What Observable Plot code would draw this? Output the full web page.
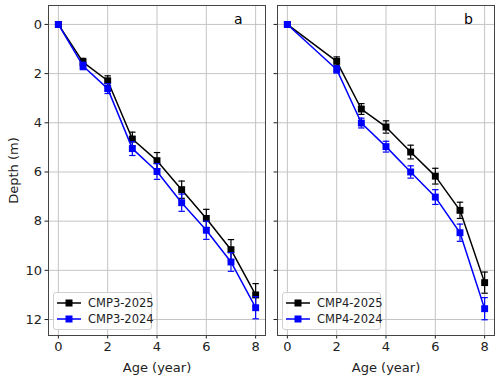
<!DOCTYPE html>
<html>
<head>
<meta charset="utf-8">
<script src="https://cdn.jsdelivr.net/npm/d3@7"></script>
<script src="https://cdn.jsdelivr.net/npm/@observablehq/plot@0.6"></script>
<style>
  html, body { margin: 0; padding: 0; background: #fff; }
  #wrap { position: relative; width: 500px; height: 380px; font-family: "DejaVu Sans", sans-serif; }
  #wrap svg.chart { position: absolute; top: 0; }
  .panel-label { position: absolute; font-size: 14px; color: #000; }
  .legend { position: absolute; top: 292px; width: 97px; height: 36px; border: 1px solid #d0d0d0; border-radius: 3px; background: rgba(255,255,255,0.85); font-size: 11.5px; color: #222; }
  .legend .row { position: absolute; left: 0; height: 14px; display: flex; align-items: center; white-space: nowrap; }
  .legend .row svg { position: static; display: block; }
  .legend .row span { margin-left: 4px; }
</style>
</head>
<body>
<div id="wrap"></div>
<script>
// ---- data ----
const ages3 = [0, 1, 2, 3, 4, 5, 6, 7, 8];
const cmp3_2025 = [0, 1.53, 2.29, 4.66, 5.54, 6.72, 7.89, 9.16, 11.0];
const cmp3_2025_err = [0.1, 0.15, 0.2, 0.28, 0.33, 0.35, 0.37, 0.41, 0.46];
const cmp3_2024 = [0, 1.69, 2.61, 5.05, 5.98, 7.25, 8.37, 9.66, 11.52];
const cmp3_2024_err = [0.1, 0.15, 0.2, 0.28, 0.32, 0.35, 0.37, 0.38, 0.45];

const ages4 = [0, 2, 3, 4, 5, 6, 7, 8];
const cmp4_2025 = [0, 1.50, 3.44, 4.17, 5.19, 6.17, 7.56, 10.5];
const cmp4_2025_err = [0.1, 0.18, 0.22, 0.25, 0.28, 0.32, 0.33, 0.43];
const cmp4_2024 = [0, 1.83, 4.01, 4.97, 6.0, 7.02, 8.47, 11.56];
const cmp4_2024_err = [0.1, 0.15, 0.2, 0.22, 0.25, 0.3, 0.35, 0.45];

const xTicks = [0, 2, 4, 6, 8];
const yTicks = [0, 2, 4, 6, 8, 10, 12];
const panelLabels = ["a", "b"];
const seriesNames = [["CMP3-2025", "CMP3-2024"], ["CMP4-2025", "CMP4-2024"]];
const colors = ["#000000", "#0000ff"];

function rows(ages, vals, errs, name) {
  return ages.map((a, i) => ({ age: a, depth: vals[i], err: errs[i], series: name }));
}

const capSymbol = {
  draw(context, size) {
    const r = 3.2;
    context.moveTo(-r, 0);
    context.lineTo(r, 0);
  }
};

function seriesMarks(data, color) {
  return [
    Plot.line(data, { x: "age", y: "depth", stroke: color, strokeWidth: 1.5 }),
    Plot.ruleX(data, { x: "age", y1: d => d.depth - d.err, y2: d => d.depth + d.err, stroke: color, strokeWidth: 1.2 }),
    Plot.dot(data, { x: "age", y: d => d.depth - d.err, symbol: capSymbol, stroke: color, strokeWidth: 1.2, r: 3 }),
    Plot.dot(data, { x: "age", y: d => d.depth + d.err, symbol: capSymbol, stroke: color, strokeWidth: 1.2, r: 3 }),
    Plot.dot(data, { x: "age", y: "depth", symbol: "square", fill: color, stroke: "none", r: 3.9 })
  ];
}

function panel(series, opts) {
  return Plot.plot({
    className: "chart",
    width: opts.width,
    height: 380,
    marginLeft: opts.marginLeft,
    marginRight: opts.marginRight,
    marginTop: 5,
    marginBottom: 45,
    style: { fontFamily: "DejaVu Sans, sans-serif", fontSize: "13px", color: "#222", background: "transparent", overflow: "visible" },
    x: { domain: [-0.4, 8.4] },
    y: { domain: [-0.77, 12.65], reverse: true },
    marks: [
      Plot.gridX(xTicks, { stroke: "#c4c4c4", strokeOpacity: 1, strokeWidth: 1 }),
      Plot.gridY(yTicks, { stroke: "#c4c4c4", strokeOpacity: 1, strokeWidth: 1 }),
      Plot.axisX(xTicks, { tickSize: 3.5, tickPadding: 3, label: "Age (year)", labelAnchor: "center", labelArrow: "none", labelOffset: 36, fontSize: 13 }),
      Plot.axisY(yTicks, { tickSize: 3.5, tickPadding: 3, tickFormat: opts.showYLabels ? d => d : () => "", label: opts.showYLabels ? "Depth (m)" : null, labelAnchor: "center", labelArrow: "none", labelOffset: 40, fontSize: 13 }),
      ...series.flatMap(s => seriesMarks(s.data, s.color)),
      Plot.frame({ stroke: "#444", strokeWidth: 1 })
    ]
  });
}

const wrap = document.getElementById("wrap");

const panels = [
  { left: 0, width: 270, marginLeft: 48, marginRight: 5, showYLabels: true,
    series: [
      { data: rows(ages3, cmp3_2025, cmp3_2025_err, seriesNames[0][0]), color: colors[0] },
      { data: rows(ages3, cmp3_2024, cmp3_2024_err, seriesNames[0][1]), color: colors[1] }
    ], labelX: 234, legendX: 53 },
  { left: 270, width: 230, marginLeft: 7, marginRight: 6, showYLabels: false,
    series: [
      { data: rows(ages4, cmp4_2025, cmp4_2025_err, seriesNames[1][0]), color: colors[0] },
      { data: rows(ages4, cmp4_2024, cmp4_2024_err, seriesNames[1][1]), color: colors[1] }
    ], labelX: 464, legendX: 282 }
];

panels.forEach((p, k) => {
  const svg = panel(p.series, p);
  svg.style.left = p.left + "px";
  wrap.appendChild(svg);

  const lab = document.createElement("div");
  lab.className = "panel-label";
  lab.style.left = p.labelX + "px";
  lab.style.top = "11px";
  lab.textContent = panelLabels[k];
  wrap.appendChild(lab);

  const leg = document.createElement("div");
  leg.className = "legend";
  leg.style.left = p.legendX + "px";
  seriesNames[k].forEach((name, j) => {
    const row = document.createElement("div");
    row.className = "row";
    row.style.top = (3 + j * 16) + "px";
    row.innerHTML = `<svg width="30" height="14"><line x1="3" y1="7" x2="27" y2="7" stroke="${colors[j]}" stroke-width="1.5"/><rect x="11.5" y="3.5" width="7" height="7" fill="${colors[j]}"/></svg><span>${name}</span>`;
    leg.appendChild(row);
  });
  wrap.appendChild(leg);
});
</script>
</body>
</html>
